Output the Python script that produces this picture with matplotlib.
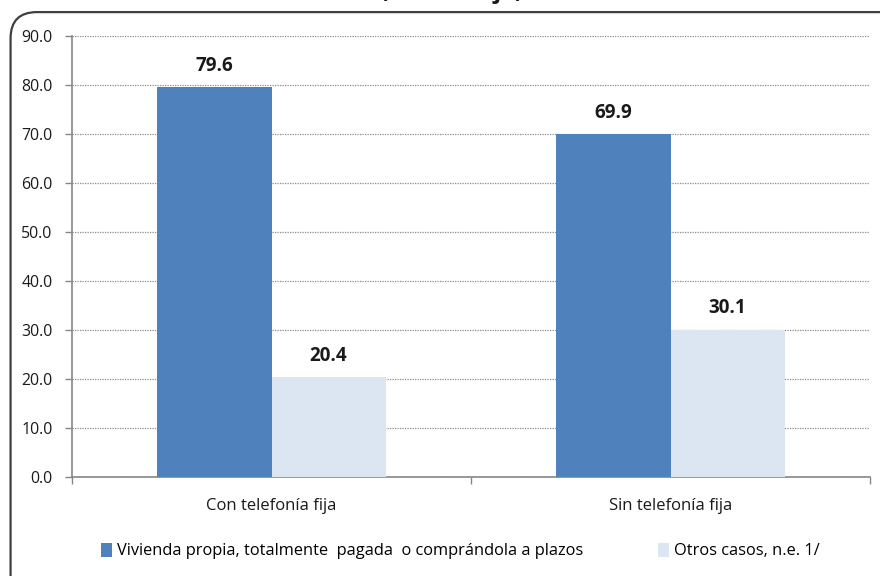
import numpy as np
import matplotlib.pyplot as plt
from matplotlib.patches import FancyBboxPatch

categorias = ['Con telefonía fija', 'Sin telefonía fija']
vivienda_propia = [79.6, 69.9]
otros_casos = [20.4, 30.1]
series_nombres = ['Vivienda propia, totalmente  pagada  o comprándola a plazos',
                  'Otros casos, n.e. 1/']
yticks = np.arange(0, 91, 10)

azul = '#4F81BD'
celeste = '#DCE6F2'
gris = '#868686'

plt.rcParams['font.family'] = ['Open Sans', 'DejaVu Sans']

fig = plt.figure(figsize=(8.8, 5.76), dpi=100)

# marco redondeado del area del grafico
marco = FancyBboxPatch((0.012, -0.05), 1.05, 1.029, transform=fig.transFigure,
                       boxstyle='round,pad=0,rounding_size=0.03',
                       facecolor='none', edgecolor='#404040', linewidth=1.6,
                       mutation_aspect=880 / 576, zorder=5)
fig.patches.append(marco)

# titulo (cortado en el borde superior)
fig.text(0.513, 1 + 1.5 / 576, '(Porcentaje)', ha='center', va='baseline',
         fontsize=17, fontweight='bold', color='#1a1a1a')

ax = fig.add_axes([72 / 880, 1 - 477 / 576, 798 / 880, 441 / 576])
ax.set_facecolor('none')

x = np.arange(len(categorias))
ancho = 0.286
b1 = ax.bar(x - ancho / 2, vivienda_propia, ancho, color=azul, zorder=3,
            label=series_nombres[0])
b2 = ax.bar(x + ancho / 2, otros_casos, ancho, color=celeste, zorder=3,
            label=series_nombres[1])

for barras in (b1, b2):
    for r in barras:
        ax.annotate(f'{r.get_height():.1f}', (r.get_x() + r.get_width() / 2, r.get_height()),
                    xytext=(0, 8), textcoords='offset points', ha='center', va='bottom',
                    fontsize=13.5, fontweight='bold', color='#1a1a1a')

ax.set_xlim(-0.5, 1.5)
ax.set_ylim(0, 90)
ax.set_yticks(yticks)
ax.set_yticklabels([f'{v:.1f}' for v in yticks], fontsize=11.4, color='#1a1a1a')
ax.yaxis.grid(True, linestyle=(0, (1, 1)), color='#8c8c8c', linewidth=0.9, zorder=0)

# rotulos de categoria sin marca; marcas en los limites de categoria
ax.set_xticks(x)
ax.set_xticklabels(categorias, fontsize=12, color='#1a1a1a')
ax.tick_params(axis='x', length=0, pad=15)
ax.set_xticks([-0.5, 0.5, 1.5], minor=True)
ax.tick_params(axis='x', which='minor', length=5, color=gris, width=1)
ax.tick_params(axis='y', length=5, color=gris, width=1, pad=9)

for lado in ('top', 'right'):
    ax.spines[lado].set_visible(False)
for lado in ('left', 'bottom'):
    ax.spines[lado].set_color(gris)
    ax.spines[lado].set_linewidth(1.2)

fig.legend(handles=[b1, b2], labels=series_nombres, loc='center',
           bbox_to_anchor=(0.523, 1 - 551 / 576), ncol=2, frameon=False,
           fontsize=11.8, handlelength=0.65, handleheight=0.95, handletextpad=0.3,
           columnspacing=4.6)

fig.savefig('out.png', dpi=100)
